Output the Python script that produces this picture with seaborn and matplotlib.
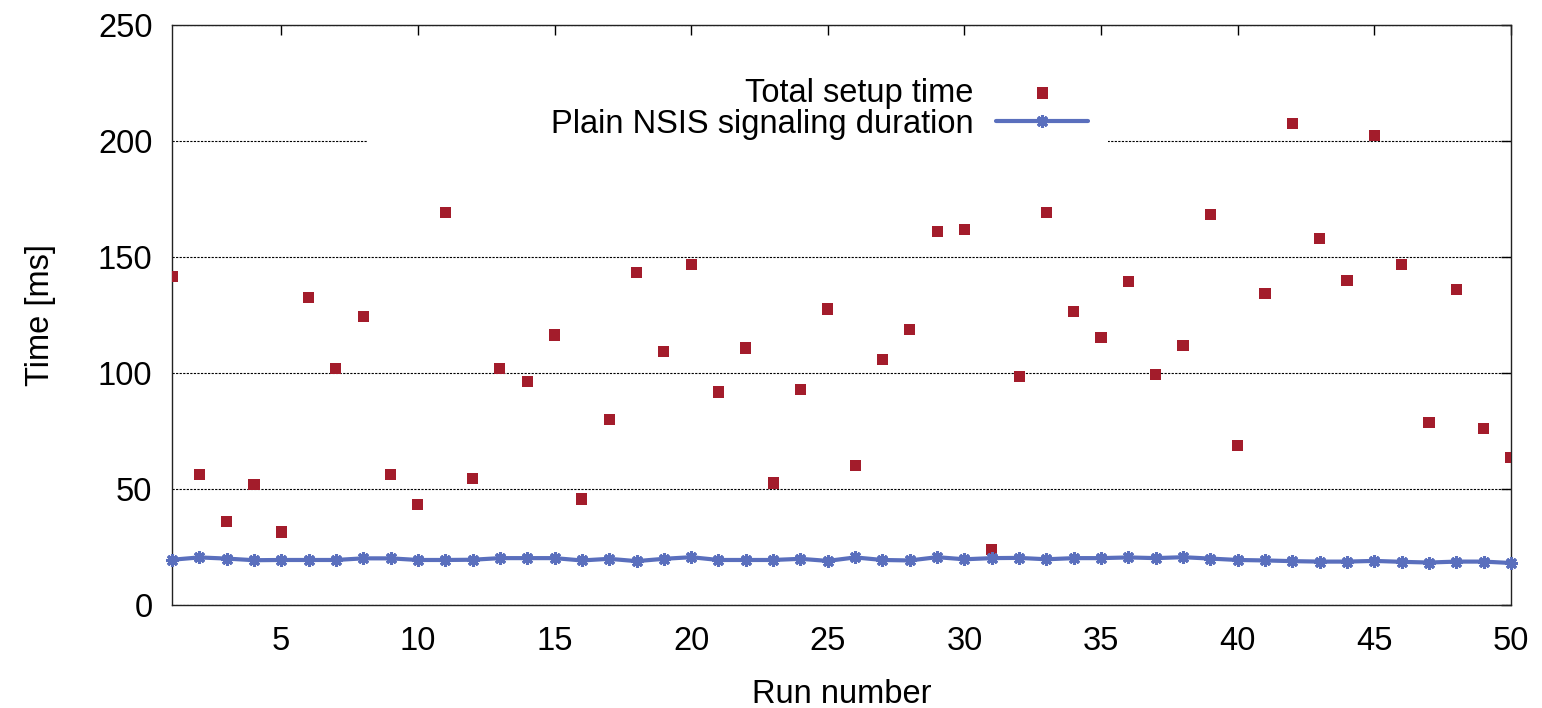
import numpy as np
import pandas as pd
import matplotlib
matplotlib.use("Agg")
import matplotlib.pyplot as plt
import seaborn as sns
from matplotlib.patches import Rectangle

# run numbers 1..50
runs = list(range(1, 51))

# total setup time [ms]
total_setup = [141.6, 56.3, 36.0, 51.9, 31.5, 132.7, 101.8, 124.3, 56.3, 43.4,
               169.3, 54.6, 101.8, 96.2, 116.4, 45.7, 79.9, 143.3, 109.2, 146.8,
               91.8, 110.8, 52.6, 92.8, 127.6, 60.2, 105.7, 118.7, 160.9, 161.9,
               23.8, 98.4, 169.3, 126.5, 115.3, 139.5, 99.4, 111.9, 168.4, 68.6,
               134.4, 207.4, 158.0, 140.0, 202.5, 146.8, 78.8, 136.1, 76.1, 63.7]

# plain NSIS signaling duration [ms]
nsis_duration = [19.5, 20.5, 20.0, 19.3, 19.4, 19.4, 19.4, 20.1, 20.1, 19.4,
                 19.4, 19.5, 20.2, 20.2, 20.2, 19.2, 19.9, 18.9, 19.9, 20.6,
                 19.4, 19.4, 19.4, 19.9, 19.0, 20.5, 19.4, 19.2, 20.6, 19.7,
                 20.2, 20.3, 19.7, 20.2, 20.2, 20.5, 20.2, 20.6, 20.0, 19.4,
                 19.2, 18.9, 18.7, 18.7, 19.0, 18.6, 18.3, 18.7, 18.7, 18.1]

df = pd.DataFrame({"run": runs, "total": total_setup, "nsis": nsis_duration})

sns.set_style("white")
plt.rcParams["font.family"] = ["Liberation Sans", "DejaVu Sans"]
plt.rcParams["text.color"] = "black"
plt.rcParams["axes.labelcolor"] = "black"
fs = 23.5
plt.rcParams["font.size"] = fs

fig = plt.figure(figsize=(15.42, 7.08), dpi=100)
ax = fig.add_axes([0.1115, 0.1455, 0.8684, 0.8192])

ax.set_axisbelow(True)
ax.yaxis.grid(True, color="black", linestyle=(0, (2, 1.2)), linewidth=0.8)
ax.xaxis.grid(False)

# white key box hides part of the 200 grid line, like the original
ax.add_patch(Rectangle((0.1464, 0.785), 0.5526, 0.145, transform=ax.transAxes,
                       facecolor="white", edgecolor="none", zorder=1))

sns.scatterplot(data=df, x="run", y="total", marker="s", s=65, color="#a31c2b",
                edgecolor="none", label="Total setup time", ax=ax, zorder=3)
sns.lineplot(data=df, x="run", y="nsis", color="#5a6fbd", linewidth=3.0,
             marker=(8, 2, 0), markersize=9, markeredgewidth=2.2,
             markeredgecolor="#5a6fbd", label="Plain NSIS signaling duration",
             ax=ax, zorder=4, clip_on=False)

ax.set_xlim(1, 50)
ax.set_ylim(0, 250)
ax.set_xticks(range(5, 51, 5))
ax.set_yticks(range(0, 251, 50))
ax.tick_params(direction="in", length=7, width=1, top=True, right=True,
               labelsize=fs, colors="black")
ax.tick_params(axis="x", pad=15)
ax.tick_params(axis="y", pad=14)
for s in ax.spines.values():
    s.set_visible(True)
    s.set_color("#222222")
    s.set_linewidth(1.0)

ax.set_xlabel("Run number", fontsize=fs, labelpad=16)
ax.set_ylabel("Time [ms]", fontsize=fs, labelpad=30)

leg = ax.legend(loc="center right", bbox_to_anchor=(0.684, 0.856), markerfirst=False,
                frameon=False, fontsize=fs, handlelength=2.8, handletextpad=0.7,
                labelspacing=0.0, borderpad=0, borderaxespad=0)

plt.savefig("out.png", dpi=100)
